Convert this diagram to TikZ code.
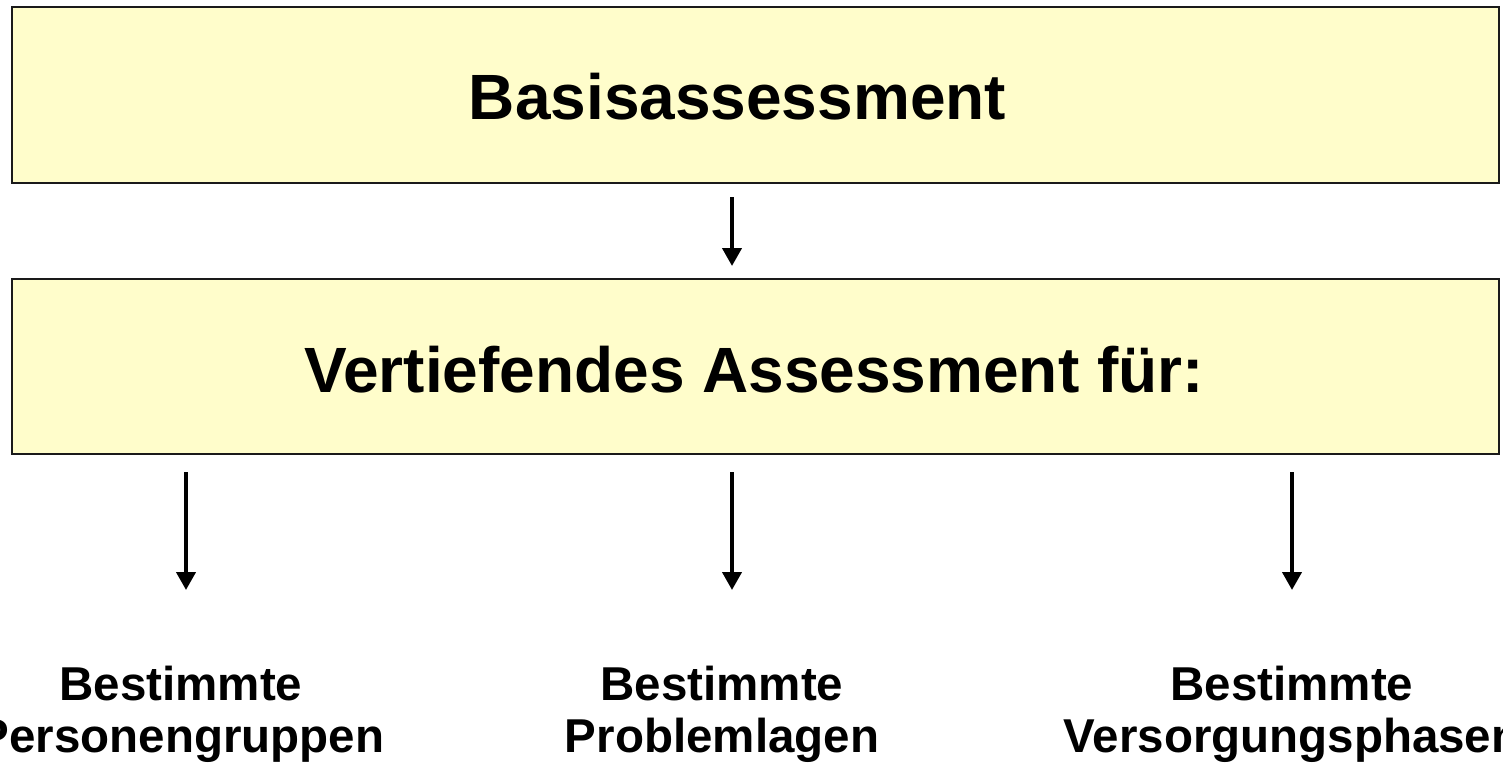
\documentclass[tikz,border=0pt]{standalone}
\usepackage{fontspec}
\setmainfont{Liberation Sans}
\usetikzlibrary{arrows.meta}
\definecolor{boxfill}{HTML}{FFFDCB}
\definecolor{boxline}{HTML}{1A1A1A}
\begin{document}
\begin{tikzpicture}[x=1pt,y=-1pt,
  box/.style={draw=boxline,line width=2pt,fill=boxfill,inner sep=0pt},
  title/.style={font=\fontsize{64}{70}\selectfont\bfseries,inner sep=0pt,anchor=base},
  leaf/.style={font=\fontsize{47.5}{52}\selectfont\bfseries,inner sep=0pt,anchor=north,align=center},
  arr/.style={line width=4pt,-{Triangle[length=18pt,width=19pt]}}]
\clip (0,0) rectangle (1503,769);
\fill[white] (0,0) rectangle (1503,769);
% boxes
\node[box,minimum width=1487pt,minimum height=176pt] (b1) at (755.5,95) {};
\node[box,minimum width=1487pt,minimum height=175pt] (b2) at (755.5,366.5) {};
\node[title] (t1) at (737.5,119) {Basisassessment};
\node[title] (t2) at (754,392) {Vertiefendes Assessment für:};
% leaves
\node[leaf] (l1) at (181,666) {Bestimmte\\Personengruppen};
\node[leaf] (l2) at (722,666) {Bestimmte\\Problemlagen};
\node[leaf] (l3) at (1292,666) {Bestimmte\\Versorgungsphasen};
% arrow coordinates
\coordinate (a0s) at (732,197);
\coordinate (a0e) at (732,266);
\coordinate (a1s) at (186,472);
\coordinate (a1e) at (186,590);
\coordinate (a2s) at (732,472);
\coordinate (a2e) at (732,590);
\coordinate (a3s) at (1292,472);
\coordinate (a3e) at (1292,590);
\draw[arr] (a0s) -- (a0e);
\draw[arr] (a1s) -- (a1e);
\draw[arr] (a2s) -- (a2e);
\draw[arr] (a3s) -- (a3e);
\end{tikzpicture}
\end{document}
